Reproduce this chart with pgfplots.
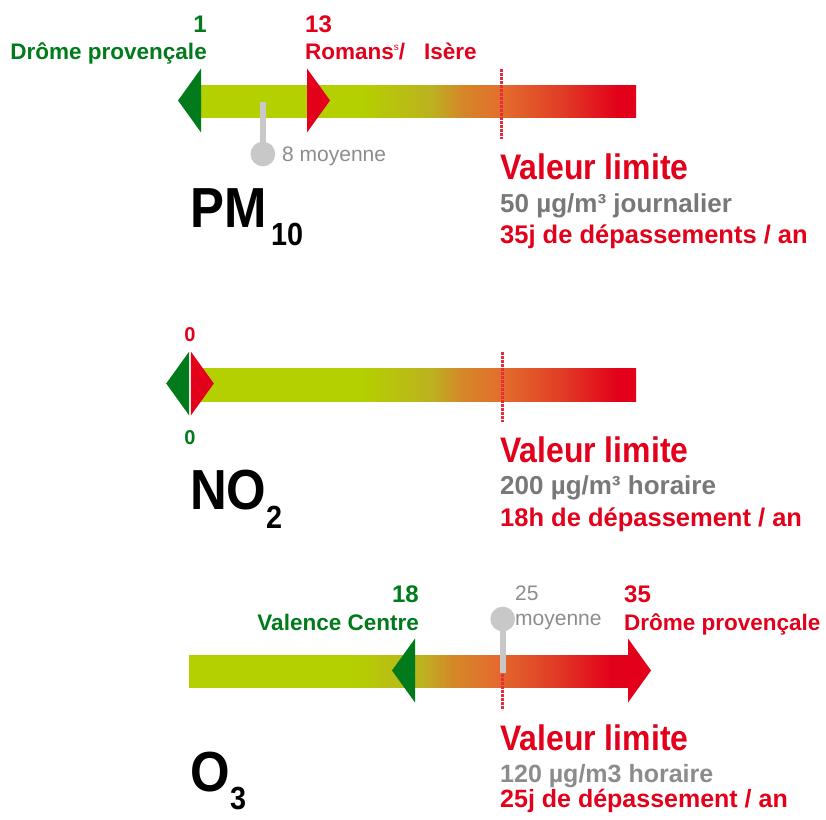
\documentclass[border=0pt]{standalone}
\usepackage{pgfplots}
\pgfplotsset{compat=1.18}
\usepackage{fontspec}
\setmainfont{Liberation Sans}
\newfontfamily\cond{Liberation Sans}[FakeStretch=0.9]
\newcommand{\fs}[1]{\fontsize{#1}{#1}\selectfont}

\definecolor{cLime}{RGB}{180,208,0}
\definecolor{cOlive}{RGB}{188,178,32}
\definecolor{cOrA}{RGB}{212,135,40}
\definecolor{cOrB}{RGB}{227,110,45}
\definecolor{cRedO}{RGB}{225,60,38}
\definecolor{cRed}{RGB}{226,0,26}
\definecolor{cGreen}{RGB}{0,122,26}
\definecolor{cGreyT}{RGB}{120,120,120}
\definecolor{cGreyL}{RGB}{140,140,140}
\definecolor{cGreyM}{RGB}{200,200,200}
\definecolor{cLim}{RGB}{230,45,60}

\pgfdeclarehorizontalshading{barshade}{100bp}{color(0bp)=(cLime); color(43.5bp)=(cLime); color(51.5bp)=(cOlive); color(55bp)=(cOrA); color(59.5bp)=(cOrB); color(66.5bp)=(cRedO); color(73bp)=(cRed); color(100bp)=(cRed)}

\pgfdeclareplotmark{larrow}{%
  \pgfpathmoveto{\pgfqpoint{0pt}{32pt}}%
  \pgfpathlineto{\pgfqpoint{-23pt}{0pt}}%
  \pgfpathlineto{\pgfqpoint{0pt}{-32pt}}%
  \pgfpathclose\pgfusepathqfill}
\pgfdeclareplotmark{rarrow}{%
  \pgfpathmoveto{\pgfqpoint{0pt}{32pt}}%
  \pgfpathlineto{\pgfqpoint{23pt}{0pt}}%
  \pgfpathlineto{\pgfqpoint{0pt}{-32pt}}%
  \pgfpathclose\pgfusepathqfill}

\tikzset{lbl/.style={inner sep=0pt}}
\pgfplotsset{
  base/.style={at={(0,0)}, anchor=south west, width=826pt, height=819pt,
    scale only axis, ymin=0, ymax=819, y dir=reverse, hide axis, clip=false},
  limitline/.style={cLim, line width=3.2pt, dash pattern=on 2.6pt off 1.4pt, mark=none},
  meanline/.style={cGreyM, line width=6pt, mark=*, mark indices={2}, mark size=9.3pt,
    mark options={draw=none, fill=cGreyM, solid}},
}

\begin{document}
\begin{tikzpicture}
% ---------- pixel frame: scale bars and texts ----------
\begin{axis}[base, xmin=0, xmax=826]
\addplot[draw=none, shade, shading=barshade, mark=none] coordinates {(200,85) (636,85) (636,117) (200,117) (200,85)};
\addplot[draw=none, shade, shading=barshade, mark=none] coordinates {(200,368) (636,368) (636,401) (200,401) (200,368)};
\addplot[draw=none, shade, shading=barshade, mark=none] coordinates {(189,655) (629,655) (629,687) (189,687) (189,655)};

% PM10 texts
\node[lbl, anchor=base east, text=cGreen, font={\bfseries\fs{24}}] at (axis cs:207,32) {1};
\node[lbl, anchor=base east, text=cGreen, font={\bfseries\fs{22.5}}] at (axis cs:207,59) {Drôme provençale};
\node[lbl, anchor=base west, text=cRed, font={\bfseries\fs{24}}] at (axis cs:305,32) {13};
\node[lbl, anchor=base west, text=cRed, font={\bfseries\fs{22.5}}] at (axis cs:305,59) {Romans\raisebox{8pt}{\mdseries\fs{10}s}/};
\node[lbl, anchor=base west, text=cRed, font={\bfseries\fs{22.5}}] at (axis cs:424,59) {Isère};
\node[lbl, anchor=base west, text=cGreyL, font={\fs{21}}] at (axis cs:282,161) {8 moyenne};
\node[lbl, anchor=base west, text=cRed, font={\cond\bfseries\fs{35.5}}] at (axis cs:500,179) {Valeur limite};
\node[lbl, anchor=base west, text=cGreyT, font={\bfseries\fs{26}}] at (axis cs:500,212) {50 µg/m³ journalier};
\node[lbl, anchor=base west, text=cRed, font={\bfseries\fs{25.5}}] at (axis cs:500,243) {35j de dépassements / an};
\node[lbl, anchor=base west, text=black, font={\cond\bfseries\fs{56.5}}] at (axis cs:190,227) {PM};
\node[lbl, anchor=base west, text=black, font={\cond\bfseries\fs{32}}] at (axis cs:271,245) {10};

% NO2 texts
\node[lbl, anchor=base, text=cRed, font={\bfseries\fs{20}}] at (axis cs:190,341) {0};
\node[lbl, anchor=base, text=cGreen, font={\bfseries\fs{20}}] at (axis cs:190,444) {0};
\node[lbl, anchor=base west, text=cRed, font={\cond\bfseries\fs{35.5}}] at (axis cs:500,462) {Valeur limite};
\node[lbl, anchor=base west, text=cGreyT, font={\bfseries\fs{26}}] at (axis cs:500,494) {200 µg/m³ horaire};
\node[lbl, anchor=base west, text=cRed, font={\bfseries\fs{25.5}}] at (axis cs:500,526) {18h de dépassement / an};
\node[lbl, anchor=base west, text=black, font={\cond\bfseries\fs{56.5}}] at (axis cs:190,509) {NO};
\node[lbl, anchor=base west, text=black, font={\cond\bfseries\fs{32}}] at (axis cs:266,528) {2};

% O3 texts
\node[lbl, anchor=base east, text=cGreen, font={\bfseries\fs{24}}] at (axis cs:419,602) {18};
\node[lbl, anchor=base east, text=cGreen, font={\bfseries\fs{22.5}}] at (axis cs:419,630) {Valence Centre};
\node[lbl, anchor=base west, text=cGreyL, font={\fs{21}}] at (axis cs:515,600) {25};
\node[lbl, anchor=base west, text=cGreyL, font={\fs{21}}] at (axis cs:515,625) {moyenne};
\node[lbl, anchor=base west, text=cRed, font={\bfseries\fs{24}}] at (axis cs:624,602) {35};
\node[lbl, anchor=base west, text=cRed, font={\bfseries\fs{22.5}}] at (axis cs:624,630) {Drôme provençale};
\node[lbl, anchor=base west, text=cRed, font={\cond\bfseries\fs{35.5}}] at (axis cs:500,750) {Valeur limite};
\node[lbl, anchor=base west, text=cGreyL, font={\bfseries\fs{25}}] at (axis cs:500,782) {120 µg/m3 horaire};
\node[lbl, anchor=base west, text=cRed, font={\bfseries\fs{25}}] at (axis cs:500,807) {25j de dépassement / an};
\node[lbl, anchor=base west, text=black, font={\cond\bfseries\fs{56.5}}] at (axis cs:190,791) {O};
\node[lbl, anchor=base west, text=black, font={\cond\bfseries\fs{32}}] at (axis cs:230,809) {3};
\end{axis}

% ---------- PM10 scale (values) ----------
\begin{axis}[base, xmin=-21.77, xmax=71.78]
\addplot[limitline] coordinates {(35,69) (35,139)};
\addplot[meanline] coordinates {(8,102) (8,154)};
\addplot[cGreen, only marks, mark=larrow] coordinates {(1,100.5)};
\addplot[cRed, only marks, mark=rarrow] coordinates {(13,100.5)};
\end{axis}

% ---------- NO2 scale (values) ----------
\begin{axis}[base, xmin=-10.944, xmax=36.63]
\addplot[limitline] coordinates {(18,352) (18,422)};
\addplot[cGreen, only marks, mark=larrow, mark options={xshift=-0.8pt}] coordinates {(0,383.5)};
\addplot[cRed, only marks, mark=rarrow, mark options={xshift=0.8pt}] coordinates {(0,383.5)};
\end{axis}

% ---------- O3 scale (values) ----------
\begin{axis}[base, xmin=-15.12, xmax=50.80]
\addplot[limitline] coordinates {(25,638) (25,710)};
\addplot[meanline] coordinates {(25,673) (25,619)};
\addplot[cGreen, only marks, mark=larrow] coordinates {(18,670.5)};
\addplot[cRed, only marks, mark=rarrow] coordinates {(35,670.5)};
\end{axis}

\pgfresetboundingbox
\useasboundingbox (0,0) rectangle (826pt,819pt);
\end{tikzpicture}
\end{document}
